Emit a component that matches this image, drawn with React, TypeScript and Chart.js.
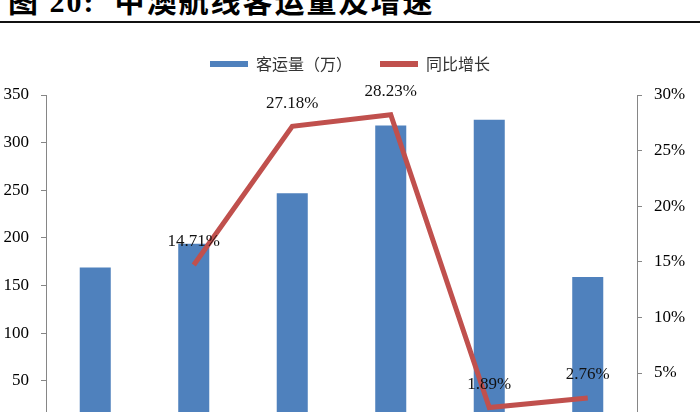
import { useEffect, useRef } from "react";
import { Chart, registerables } from "chart.js";

Chart.register(...registerables);

// 中澳航线客运量及增速
const categories = ["2011", "2012", "2013", "2014", "2015", "2016H1"];
const passengers = [169, 194, 247, 318, 324, 159];
const growth: (number | null)[] = [null, 14.71, 27.18, 28.23, 1.89, 2.76];
const seriesNames = ["客运量（万）", "同比增长"];
const leftMax = 350;
const leftStep = 50;
const rightMax = 30;
const rightStep = 5;

const BLUE = "#4f81bd";
const RED = "#c0504d";
const AXIS = "#868686";
const SERIF = "'Liberation Serif', 'Times New Roman', serif";
const CJK = "'Noto Sans CJK SC', sans-serif";

// percent labels above the growth line
const pointLabels = {
    id: "pointLabels",
    afterDatasetsDraw(chart: any) {
        const meta = chart.getDatasetMeta(1);
        const ctx = chart.ctx;
        ctx.save();
        ctx.font = `17px ${SERIF}`;
        ctx.fillStyle = "#111";
        ctx.textAlign = "center";
        ctx.textBaseline = "middle";
        meta.data.forEach((pt: any, i: number) => {
            const v = growth[i];
            if (v == null) return;
            ctx.fillText(`${v.toFixed(2)}%`, pt.x, pt.y - 23);
        });
        ctx.restore();
    },
};

// extra room between legend and plot area
const legendGap = {
    id: "legendGap",
    beforeLayout(chart: any) {
        const lg = chart.legend;
        if (!lg || lg._gapPatched) return;
        const fit = lg.fit.bind(lg);
        lg.fit = () => {
            fit();
            lg.height += 13;
        };
        lg._gapPatched = true;
    },
};

function GrowthChart() {
    const canvasRef = useRef<HTMLCanvasElement>(null);

    useEffect(() => {
        if (!canvasRef.current) return;
        const chart = new Chart(canvasRef.current, {
            type: "bar",
            data: {
                labels: categories,
                datasets: [
                    {
                        type: "bar",
                        label: seriesNames[0],
                        data: passengers,
                        backgroundColor: BLUE,
                        borderWidth: 0,
                        barPercentage: 0.315,
                        categoryPercentage: 1,
                        yAxisID: "y",
                        order: 1,
                    },
                    {
                        type: "line",
                        label: seriesNames[1],
                        data: growth,
                        borderColor: RED,
                        backgroundColor: RED,
                        borderWidth: 5,
                        pointRadius: 0,
                        tension: 0,
                        yAxisID: "y1",
                        order: 0,
                    } as any,
                ],
            },
            options: {
                animation: false,
                responsive: false,
                layout: { padding: 0 },
                scales: {
                    x: {
                        grid: { display: false },
                        border: { color: AXIS },
                        ticks: { color: "#000", font: { family: SERIF, size: 17 } },
                    },
                    y: {
                        position: "left",
                        min: 0,
                        max: leftMax,
                        ticks: { stepSize: leftStep, color: "#000", padding: 12, font: { family: SERIF, size: 17 } },
                        grid: { drawOnChartArea: false, tickLength: 5, color: AXIS },
                        border: { color: AXIS },
                        afterFit: (s: any) => {
                            s.width = 46;
                        },
                    },
                    y1: {
                        position: "right",
                        min: 0,
                        max: rightMax,
                        ticks: {
                            stepSize: rightStep,
                            color: "#000",
                            padding: 12,
                            font: { family: SERIF, size: 17 },
                            callback: (v: any) => `${v}%`,
                        },
                        grid: { drawOnChartArea: false, tickLength: 5, color: AXIS },
                        border: { color: AXIS },
                        afterFit: (s: any) => {
                            s.width = 63;
                        },
                    },
                },
                plugins: {
                    legend: {
                        position: "top",
                        labels: {
                            boxWidth: 38,
                            boxHeight: 6,
                            padding: 28,
                            color: "#333",
                            font: { family: CJK, size: 16 },
                            sort: (a: any, b: any) => a.datasetIndex - b.datasetIndex,
                            generateLabels: (c: any) =>
                                Chart.defaults.plugins.legend.labels.generateLabels(c).map((item: any) => ({
                                    ...item,
                                    fillStyle: item.datasetIndex === 1 ? RED : BLUE,
                                    lineWidth: 0,
                                })),
                        },
                    },
                    tooltip: { enabled: false },
                },
            },
            plugins: [pointLabels, legendGap],
        });
        return () => chart.destroy();
    }, []);

    return (
        <canvas
            ref={canvasRef}
            width={700}
            height={435}
            style={{ position: "absolute", left: 0, top: 28, width: 700, height: 435 }}
        />
    );
}

export default function App() {
    return (
        <div style={{ position: "fixed", left: 0, top: 0, width: 700, height: 412, overflow: "hidden", background: "#fff" }}>
            <div
                style={{
                    position: "absolute",
                    left: 8,
                    top: -13,
                    fontFamily: `'Liberation Serif', ${CJK}`,
                    fontWeight: "bold",
                    fontSize: 30,
                    lineHeight: "30px",
                    letterSpacing: 2,
                    color: "#000",
                    whiteSpace: "nowrap",
                }}
            >
                图 20:{"\u00a0\u00a0"}中澳航线客运量及增速
            </div>
            <div style={{ position: "absolute", left: 0, top: 21, width: 700, height: 0, borderTop: "2px solid #111" }} />
            <GrowthChart />
        </div>
    );
}
